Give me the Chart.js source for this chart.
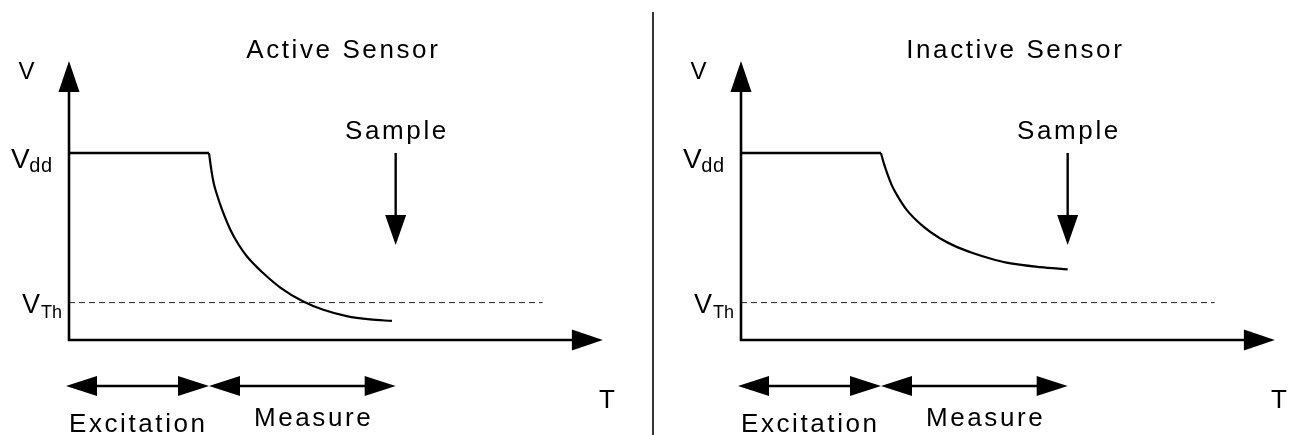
<!DOCTYPE html>
<html><head><meta charset="utf-8">
<script src="https://cdn.jsdelivr.net/npm/chart.js@4.4.1/dist/chart.umd.min.js"></script>
<style>
html,body{margin:0;padding:0;background:#fff;}
#wrap{position:relative;width:1297px;height:435px;overflow:hidden;background:#fff;}
canvas{position:absolute;top:0;}
</style></head><body>
<div id="wrap">
<canvas id="c1" width="660" height="435" style="left:0px"></canvas>
<canvas id="c2" width="625" height="435" style="left:672px"></canvas>
</div>
<script>
// ---- data ----
const PANEL_TITLES = ['Active Sensor', 'Inactive Sensor'];
const PHASE_LABELS = ['Excitation', 'Measure'];
const PHASE_START = [0, 3];
const PHASE_END = [3, 7];
const V_DD = 5.0;
const V_TH = 1.0;
const SAMPLE_T = 7;
const TH_LINE_T = [0, 10.15];
const EXCITE_T = [0, 3];
const EXCITE_V = [5.0, 5.0];
const ACTIVE_T = [3.0, 3.05, 3.1, 3.18, 3.27, 3.45, 3.63, 3.81, 4.16, 4.52, 5.02, 5.45, 5.95, 6.45, 6.92];
const ACTIVE_V = [5.0, 4.55, 4.2, 3.85, 3.52, 2.97, 2.56, 2.24, 1.79, 1.41, 1.03, 0.81, 0.64, 0.55, 0.51];
const INACTIVE_T = [3.0, 3.05, 3.12, 3.23, 3.34, 3.55, 3.91, 4.26, 4.62, 4.98, 5.34, 5.69, 6.41, 7.0];
const INACTIVE_V = [5.0, 4.77, 4.5, 4.14, 3.88, 3.48, 3.03, 2.72, 2.49, 2.32, 2.18, 2.07, 1.95, 1.89];

const T_MAX = 11.5, V_MAX = 8;
const AXIS_T_END = 11.44, AXIS_V_END = 7.46, SAMPLE_TIP_V = 2.54;

const FONT = '"Liberation Sans", Arial, Helvetica, sans-serif';
const pts = (xs, ys) => xs.map((x, i) => ({x: x, y: ys[i]}));

function arrowHead(ctx, tx, ty, dx, dy, len, half) {
  const bx = tx - dx * len, by = ty - dy * len;
  const px = -dy, py = dx;
  ctx.beginPath();
  ctx.moveTo(tx, ty);
  ctx.lineTo(bx + px * half, by + py * half);
  ctx.lineTo(bx - px * half, by - py * half);
  ctx.closePath();
  ctx.fill();
}

function txt(ctx, s, x, y, size, align, spacing) {
  ctx.font = size + 'px ' + FONT;
  ctx.letterSpacing = (spacing || 0) + 'px';
  ctx.textAlign = align;
  ctx.textBaseline = 'alphabetic';
  let xx = x;
  if (align === 'center') xx = x + (spacing || 0) / 2;
  if (align === 'right') xx = x + (spacing || 0);
  ctx.fillText(s, xx, y);
  const w = ctx.measureText(s).width;
  ctx.letterSpacing = '0px';
  return w;
}

function makePlugin(idx, divider) {
  return {
    id: 'diagram' + idx,
    afterDatasetsDraw(chart) {
      const ctx = chart.ctx, xs = chart.scales.x, ys = chart.scales.y;
      const X = v => xs.getPixelForValue(v), Y = v => ys.getPixelForValue(v);
      const x0 = X(0), y0 = Y(0);
      ctx.save();
      ctx.fillStyle = '#000';
      ctx.strokeStyle = '#000';
      ctx.lineCap = 'butt';
      // axes
      ctx.lineWidth = 2.6;
      const yTip = Y(AXIS_V_END), xTip = X(AXIS_T_END);
      ctx.beginPath();
      ctx.moveTo(x0, y0 + 1.3); ctx.lineTo(x0, yTip + 28);
      ctx.moveTo(x0 - 1.3, y0); ctx.lineTo(xTip - 28, y0);
      ctx.stroke();
      arrowHead(ctx, x0, yTip, 0, -1, 31, 10.5);
      arrowHead(ctx, xTip, y0, 1, 0, 31, 10.5);
      // axis labels
      txt(ctx, 'V', x0 - 42.5, 79, 24, 'center', 0);
      txt(ctx, 'T', x0 + 538, 408, 26, 'center', 0);
      // Vdd label
      const yd = Y(V_DD);
      ctx.font = '20px ' + FONT;
      const wdd = ctx.measureText('dd').width + 1;
      txt(ctx, 'dd', x0 - 17, yd + 19, 20, 'right', 0.5);
      txt(ctx, 'V', x0 - 16 - wdd, yd + 15, 28, 'right', 0);
      // VTh label
      const yt = Y(V_TH);
      ctx.font = '18px ' + FONT;
      const wth = ctx.measureText('Th').width;
      txt(ctx, 'Th', x0 - 7, yt + 15, 18, 'right', 0);
      txt(ctx, 'V', x0 - 7 - wth - 1, yt + 10, 27, 'right', 0);
      // title
      txt(ctx, PANEL_TITLES[idx], x0 + 273, 58, 26, 'center', 2.6);
      // sample arrow
      const xs7 = X(SAMPLE_T), sTip = Y(SAMPLE_TIP_V);
      ctx.lineWidth = 2.4;
      ctx.beginPath();
      ctx.moveTo(xs7, yd); ctx.lineTo(xs7, sTip - 28);
      ctx.stroke();
      arrowHead(ctx, xs7, sTip, 0, 1, 30, 10.5);
      txt(ctx, 'Sample', xs7, 139, 26, 'center', 2.6);
      // phase arrows
      const ya = y0 + 46;
      for (let i = 0; i < PHASE_LABELS.length; i++) {
        const a = X(PHASE_START[i]) - (i === 0 ? 3 : 0), b = X(PHASE_END[i]);
        ctx.lineWidth = 2.6;
        ctx.beginPath();
        ctx.moveTo(a + 20, ya); ctx.lineTo(b - 20, ya);
        ctx.stroke();
        arrowHead(ctx, a, ya, -1, 0, 31, 10);
        arrowHead(ctx, b, ya, 1, 0, 31, 10);
        const mid = (X(PHASE_START[i]) + X(PHASE_END[i])) / 2;
        if (i === 0) txt(ctx, PHASE_LABELS[i], mid - 2, y0 + 92, 26, 'center', 2.6);
        else txt(ctx, PHASE_LABELS[i], mid + 10, y0 + 86, 26, 'center', 2.6);
      }
      if (divider) {
        ctx.lineWidth = 1.6;
        ctx.beginPath();
        ctx.moveTo(653, 12); ctx.lineTo(653, 435);
        ctx.stroke();
      }
      ctx.restore();
    }
  };
}

function makeChart(id, idx, curveT, curveV, widthPx) {
  const pxPerUnit = 140 / 3;
  const padRight = widthPx - 69 - T_MAX * pxPerUnit;
  return new Chart(document.getElementById(id), {
    type: 'line',
    data: {
      datasets: [
        { data: pts(EXCITE_T, EXCITE_V), borderColor: '#000', borderWidth: 2.6,
          pointRadius: 0, tension: 0, clip: false, borderCapStyle: 'butt' },
        { data: pts(curveT, curveV), borderColor: '#000', borderWidth: 2.2,
          pointRadius: 0, cubicInterpolationMode: 'monotone', clip: false },
        { data: pts(TH_LINE_T, [V_TH, V_TH]), borderColor: '#222', borderWidth: 1,
          borderDash: [6, 4], pointRadius: 0, tension: 0, clip: false }
      ]
    },
    options: {
      responsive: false, animation: false, devicePixelRatio: 1,
      layout: { padding: { left: 69, right: padRight, top: 340 - V_MAX * 37.4, bottom: 95 } },
      plugins: { legend: { display: false }, tooltip: { enabled: false }, title: { display: false } },
      scales: {
        x: { type: 'linear', display: false, min: 0, max: T_MAX },
        y: { type: 'linear', display: false, min: 0, max: V_MAX }
      }
    },
    plugins: [makePlugin(idx, idx === 0)]
  });
}

makeChart('c1', 0, ACTIVE_T, ACTIVE_V, 660);
makeChart('c2', 1, INACTIVE_T, INACTIVE_V, 625);
</script>
</body></html>
